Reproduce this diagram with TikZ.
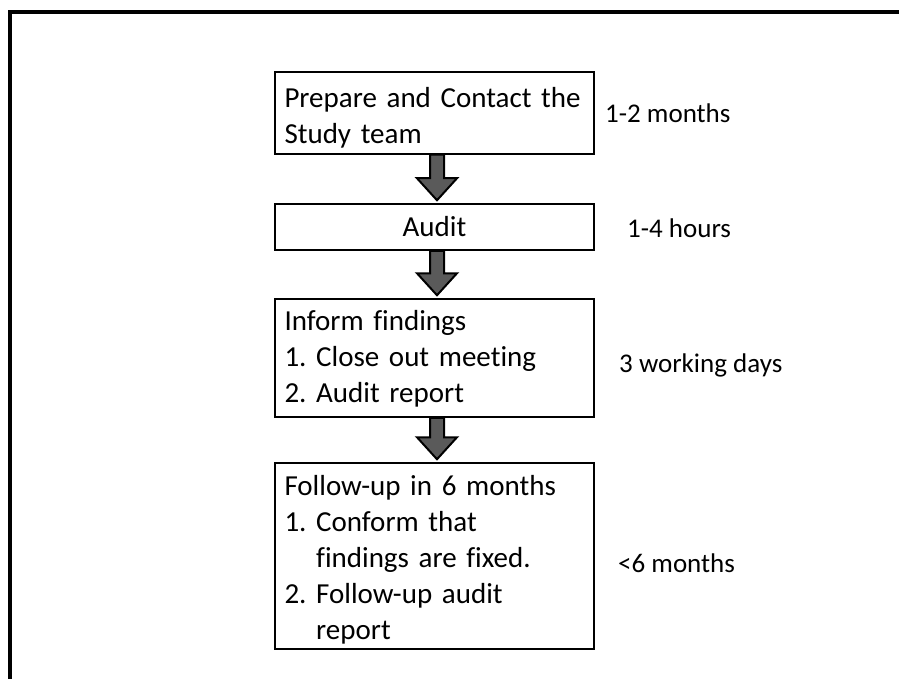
\documentclass[tikz,border=0pt]{standalone}
\usepackage{fontspec}
\setmainfont[Ligatures={NoCommon}]{Carlito}
\usetikzlibrary{calc}
\definecolor{arrowgray}{HTML}{5A5A5A}
\tikzset{
  stepbox/.style={draw=black, line width=1.5pt, rectangle, inner xsep=9.5pt, inner ysep=0pt,
    align=left, font=\fontsize{29}{36}\selectfont, text width=300pt, minimum height=#1},
  timelabel/.style={anchor=base west, inner sep=0pt, font=\fontsize{27}{33}\selectfont},
  blockarrow/.style={draw=black, line width=2pt, fill=arrowgray, line join=miter},
  frameline/.style={line width=3.5pt, black}
}
\newcommand{\flowarrow}[2]{%
  \draw[blockarrow] let \p1=(#1.south), \p2=(#2.north) in
    (\x1+2.5pt-7pt,\y1) -- (\x1+2.5pt-7pt,\y2+25pt) -- (\x1+2.5pt-20pt,\y2+25pt)
    -- (\x1+2.5pt,\y2+3pt) -- (\x1+2.5pt+20pt,\y2+25pt) -- (\x1+2.5pt+7pt,\y2+25pt)
    -- (\x1+2.5pt+7pt,\y1) -- cycle;}
\begin{document}
\begin{tikzpicture}[x=1pt,y=-1pt]
\useasboundingbox (0,0) rectangle (899,679);
\coordinate (frameTR) at (899,12);
\coordinate (frameTL) at (10,12);
\coordinate (frameBL) at (10,679);
\draw[frameline] (frameTR) -- (frameTL) -- (frameBL);

\node[stepbox=82pt] (b1) at (434.5,113) {\rule{0pt}{30pt}Prepare and Contact the\\Study team};
\node[stepbox=46pt, align=center] (b2) at (434.5,227) {Audit};
\node[stepbox=118pt] (b3) at (434.5,358) {\rule{0pt}{22pt}Inform findings\\1.~Close out meeting\\2.~Audit report};
\node[stepbox=186pt] (b4) at (434.5,556) {\rule{0pt}{28pt}Follow-up in 6 months\\1.~Conform that\\\hphantom{1.~}findings are fixed.\\2.~Follow-up audit\\\hphantom{2.~}report};

\flowarrow{b1}{b2}
\flowarrow{b2}{b3}
\flowarrow{b3}{b4}

\node[timelabel] (l1) at (605,123) {1-2 months};
\node[timelabel] (l2) at (627,237) {1-4 hours};
\node[timelabel] (l3) at (619,372) {3 working days};
\node[timelabel] (l4) at (618,572) {<6 months};
\end{tikzpicture}
\end{document}
